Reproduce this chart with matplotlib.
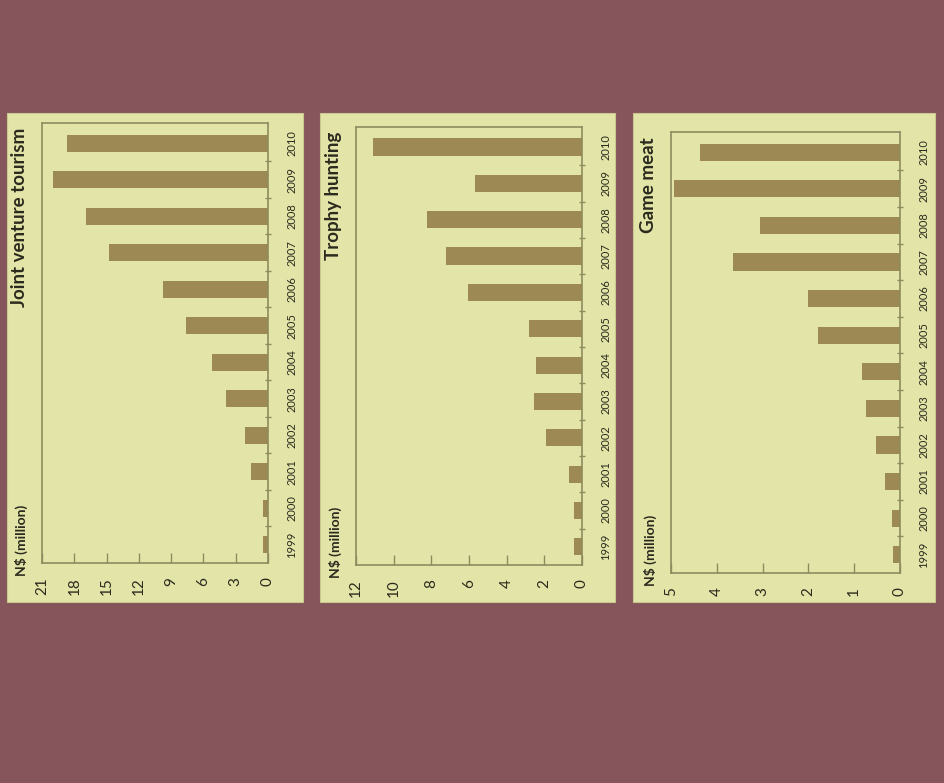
import matplotlib
matplotlib.use("Agg")
import matplotlib.pyplot as plt
from matplotlib.patches import Rectangle

# data
years = [1999, 2000, 2001, 2002, 2003, 2004, 2005, 2006, 2007, 2008, 2009, 2010]
joint_venture = [0.45, 0.45, 1.55, 2.15, 3.9, 5.25, 7.6, 9.8, 14.8, 16.9, 20.0, 18.7]
trophy_hunting = [0.45, 0.4, 0.7, 1.9, 2.55, 2.45, 2.8, 6.05, 7.2, 8.25, 5.7, 11.1]
game_meat = [0.15, 0.18, 0.33, 0.52, 0.74, 0.82, 1.78, 2.01, 3.65, 3.05, 4.93, 4.36]

titles = ["Joint venture tourism", "Trophy hunting", "Game meat"]
series = [joint_venture, trophy_hunting, game_meat]
xmax = [21, 12, 5]
xstep = [3, 2, 1]

BG = "#85555b"
PANEL = "#e3e5a8"
BAR = "#9d8954"
FRAME = "#8e8b5e"
TXT = "#2b2a1e"

plt.rcParams["font.family"] = ["Lato", "DejaVu Sans"]

W, H = 944, 783
fig = plt.figure(figsize=(W / 100, H / 100), dpi=100, facecolor=BG)


def fx(px):
    return px / W


def fy(py):
    return 1 - py / H


# pixel layout: panel box, axes box (left, top, right, bottom)
panels = [(7, 113, 303, 602), (320, 113, 615, 602), (633, 113, 935, 602)]
axboxes = [(42, 123, 268, 563), (356, 127, 582, 565), (671, 132, 900, 573)]

for i in range(3):
    pl, pt, pr, pb = panels[i]
    fig.patches.append(Rectangle((fx(pl), fy(pb)), fx(pr - pl), (pb - pt) / H,
                                 transform=fig.transFigure, facecolor=PANEL,
                                 edgecolor="#c9c98e", lw=0.8, zorder=-5))
    al, at, ar, ab = axboxes[i]
    ax = fig.add_axes([fx(al), fy(ab), fx(ar - al), (ab - at) / H])
    ax.set_facecolor(PANEL)
    pos = list(range(len(years)))
    ax.barh(pos, series[i], height=0.47, color=BAR)
    ax.set_xlim(xmax[i], 0)
    ax.set_ylim(-0.5, len(years) - 0.45)

    ticks = list(range(0, xmax[i] + 1, xstep[i]))
    ax.set_xticks(ticks)
    ax.set_xticklabels([str(t) for t in ticks], rotation=90, fontsize=11, color=TXT)
    ax.tick_params(axis="x", direction="in", length=7, width=1, color=FRAME, pad=10)

    ax.yaxis.tick_right()
    ax.set_yticks(pos)
    ax.set_yticklabels([str(y) for y in years], rotation=90, fontsize=8, color=TXT, va="center")
    ax.set_yticks([p + 0.5 for p in pos[:-1]], minor=True)
    ax.tick_params(axis="y", which="major", length=0, pad=13)
    ax.tick_params(axis="y", which="minor", direction="inout", length=4, width=1, color=FRAME)

    for s in ax.spines.values():
        s.set_color(FRAME)
        s.set_linewidth(1.2)

    # title and unit label
    fig.text(fx(al - 22), fy(at + 5), titles[i], rotation=90, ha="center", va="top",
             fontsize=13.5, fontweight="bold", color=TXT)
    fig.text(fx(al - 21), fy(ab + 13), "N$ (million)", rotation=90, ha="center", va="bottom",
             fontsize=10, fontweight="bold", color=TXT)

fig.savefig("out.png", dpi=100, facecolor=BG)
